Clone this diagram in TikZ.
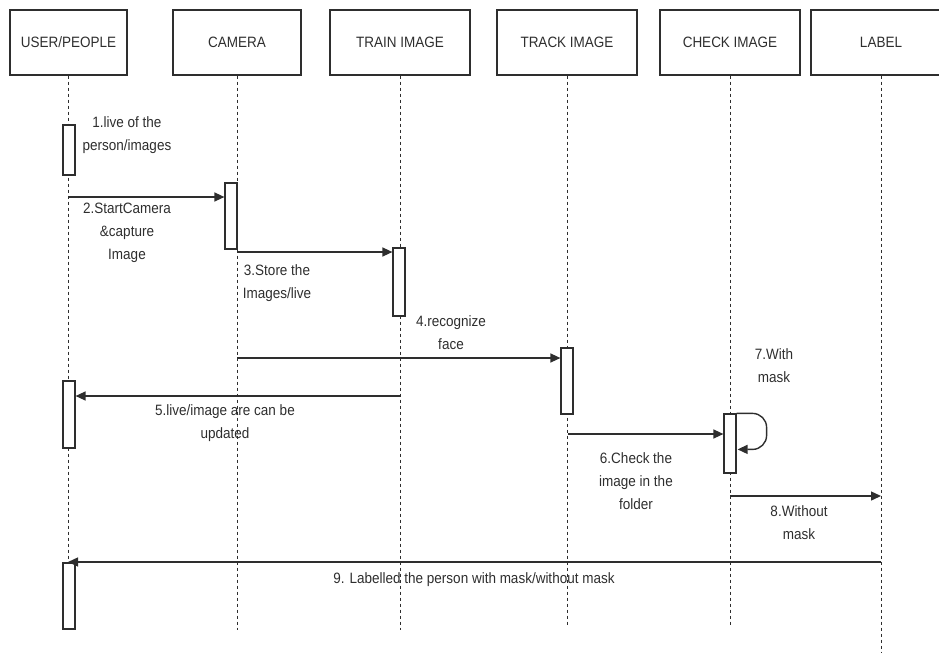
\documentclass[tikz,border=0pt]{standalone}
\usepackage{fontspec}
\setmainfont{Liberation Sans}[FakeStretch=0.9]
\usetikzlibrary{arrows.meta}
\definecolor{ln}{HTML}{2E2E2E}
\definecolor{tx}{HTML}{2E2E2E}
\begin{document}
\begin{tikzpicture}[x=1pt,y=-1pt,
 head/.style={draw=ln,line width=1.3pt,minimum width=140pt,minimum height=65pt,font=\fontsize{15}{18}\selectfont,text=tx,inner sep=0},
 life/.style={draw=ln,dash pattern=on 3pt off 3pt,line width=0.8pt},
 bar/.style={draw=ln,fill=white,line width=1.2pt,minimum width=12pt,inner sep=0},
 msg/.style={draw=ln,line width=1.4pt,-{Triangle[length=10pt,width=9pt]}},
 lbl/.style={font=\fontsize{15}{23}\selectfont,text=tx,align=center,inner sep=0},
]
\useasboundingbox (0,0) rectangle (939,653);
% headers
\node[head,minimum width=117pt] (user) at (68.5,42.5) {USER/PEOPLE};
\node[head,minimum width=128pt] (cam) at (237,42.5) {CAMERA};
\node[head] (train) at (400,42.5) {TRAIN IMAGE};
\node[head] (track) at (567,42.5) {TRACK IMAGE};
\node[head] (check) at (730,42.5) {CHECK IMAGE};
\node[head] (label) at (881,42.5) {LABEL};
% lifeline ends
\coordinate (userE) at (68,630);
\coordinate (camE) at (237,630);
\coordinate (trainE) at (400,630);
\coordinate (trackE) at (567,626);
\coordinate (checkE) at (730,626);
\coordinate (labelE) at (881,653);
\draw[life] (user.south -| userE) -- (userE);
\draw[life] (cam.south) -- (camE);
\draw[life] (train.south) -- (trainE);
\draw[life] (track.south) -- (trackE);
\draw[life] (check.south) -- (checkE);
\draw[life] (label.south) -- (labelE);
% activation bars
\node[bar,minimum height=50pt] (ub1) at (69,150) {};
\node[bar,minimum height=66pt] (cb) at (231,216) {};
\node[bar,minimum height=68pt] (tb) at (399,282) {};
\node[bar,minimum height=66pt] (kb) at (567,381) {};
\node[bar,minimum height=59pt] (hb) at (730,443.5) {};
\node[bar,minimum height=67pt] (ub2) at (69,414.5) {};
\node[bar,minimum height=66pt] (ub3) at (69,596) {};
% message anchors
\coordinate (m2s) at (68,197);
\coordinate (m3s) at (237,252);
\coordinate (m4s) at (237,358);
\coordinate (m5s) at (400,396);
\coordinate (m6s) at (568,434);
\coordinate (m8s) at (730,496);
\coordinate (m9s) at (881,562);
% messages
\draw[msg] (m2s) -- (m2s -| cb.west);
\draw[msg] (m3s) -- (m3s -| tb.west);
\draw[msg] (m4s) -- (m4s -| kb.west);
\draw[msg] (m5s) -- (m5s -| ub2.east);
\draw[msg] (m6s) -- (m6s -| hb.west);
\draw[msg,rounded corners=14pt] (hb.north east) -- ++(30,0) -- ++(0,36) -- ++(-29,0);
\draw[msg] (m8s) -- (m8s -| labelE);
\draw[msg] (m9s) -- (m9s -| userE);
% labels
\node[lbl] (t1) at (127,135) {1.live of the\\person/images};
\node[lbl] (t2) at (127,233) {2.StartCamera\\\&capture\\Image};
\node[lbl] (t3) at (277,283) {3.Store the\\Images/live};
\node[lbl] (t4) at (451,333) {4.recognize\\face};
\node[lbl] (t5) at (225,423) {5.live/image are can be\\updated};
\node[lbl] (t6) at (636,481) {6.Check the\\image in the\\folder};
\node[lbl] (t7) at (774,366) {7.With\\mask};
\node[lbl] (t8) at (799,523) {8.Without\\mask};
\node[lbl] (t9) at (474,580) {9. Labelled the person with mask/without mask};
\end{tikzpicture}
\end{document}
